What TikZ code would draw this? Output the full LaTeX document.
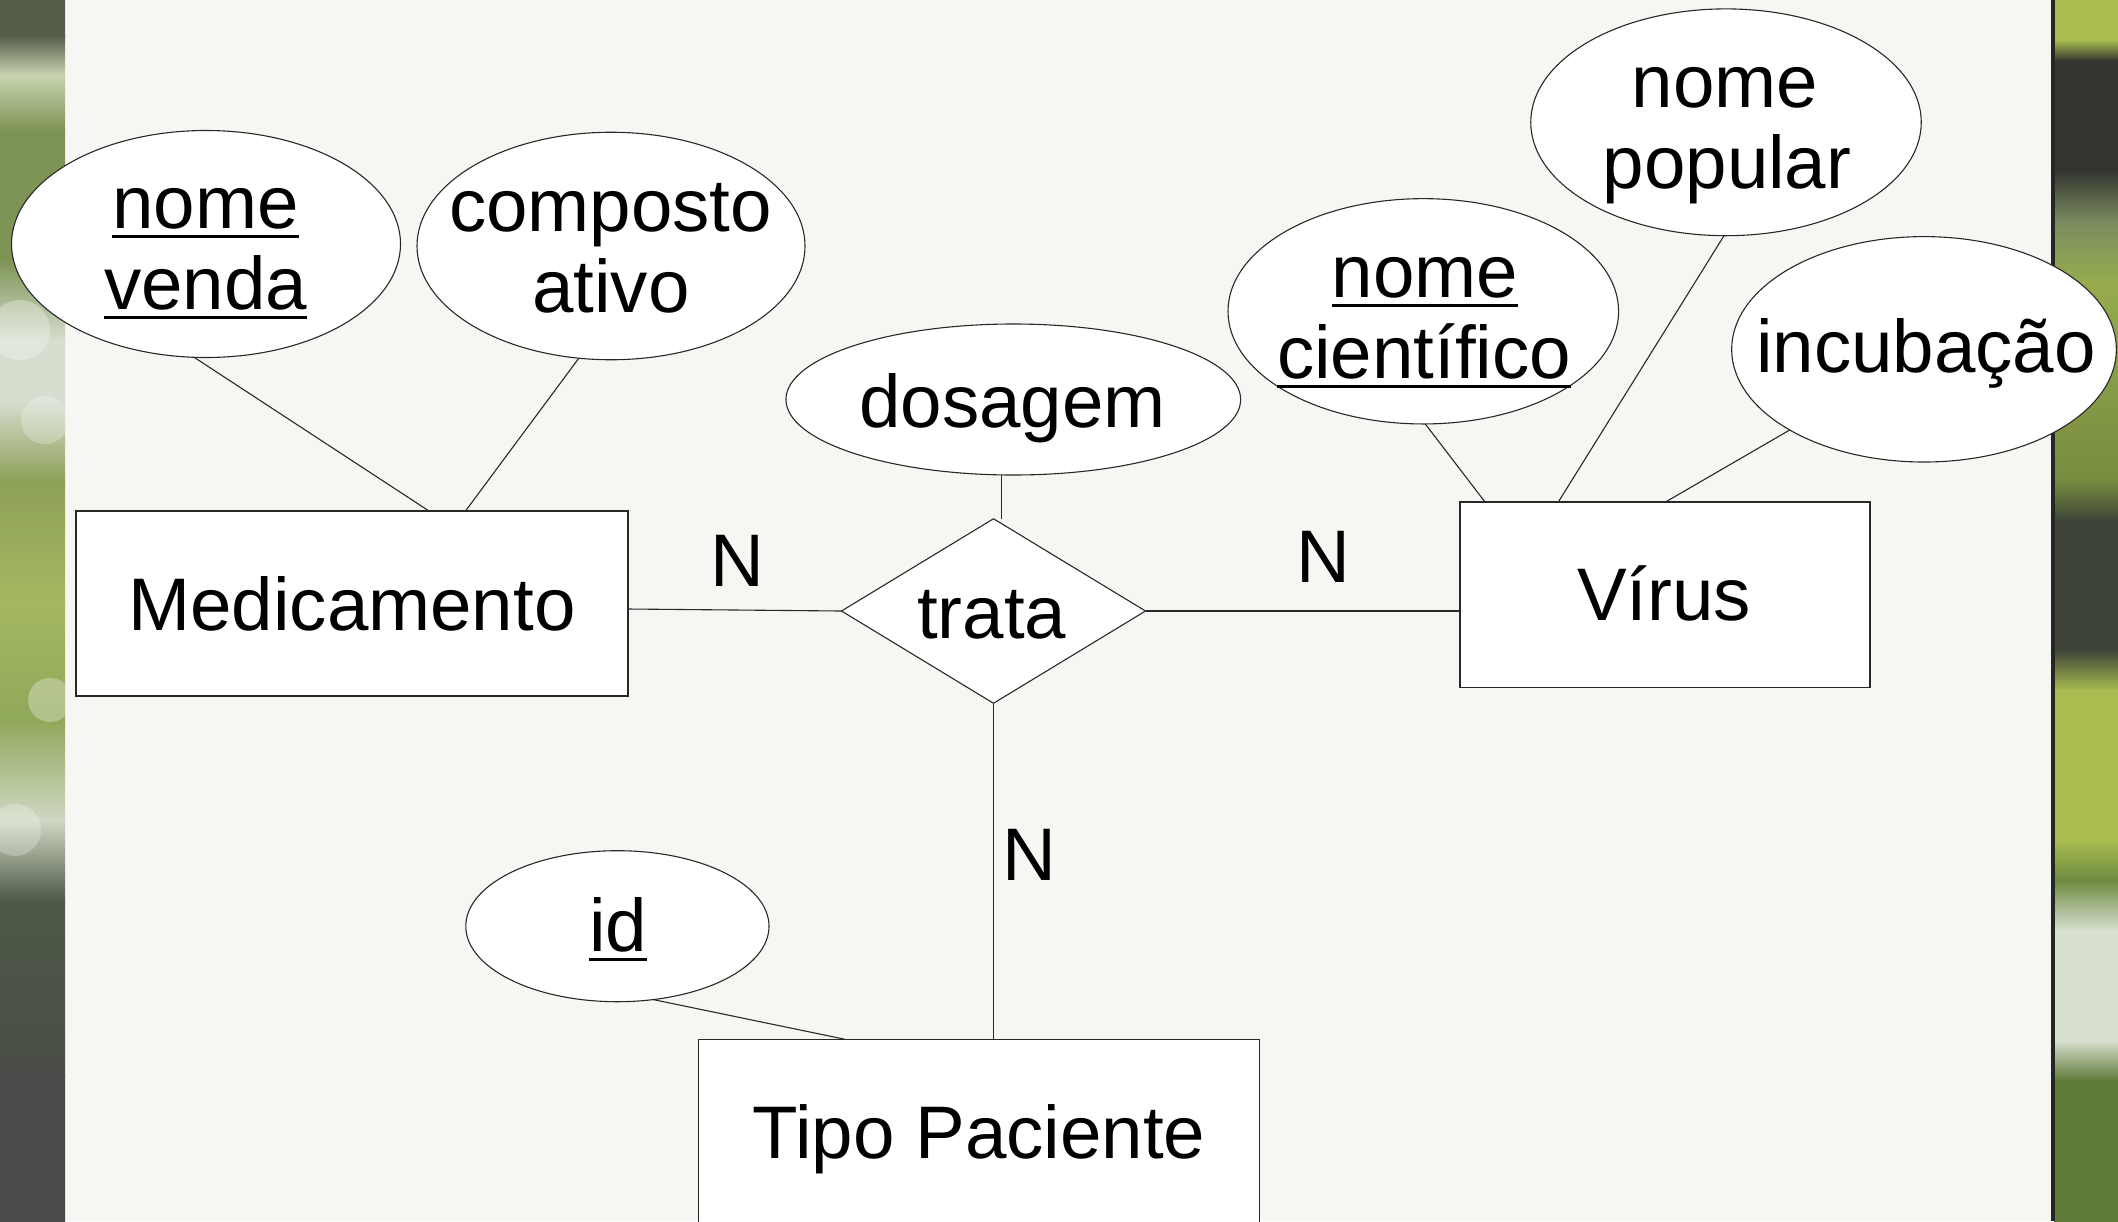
\documentclass[tikz,border=0pt]{standalone}
\usepackage{fontspec}
\setmainfont{Liberation Sans}
\usetikzlibrary{shapes.geometric}
\pgfdeclarelayer{bgl}
\pgfdeclarelayer{edges}
\pgfsetlayers{bgl,edges,main}
\newsavebox\ulbox
\newcommand\ulx[1]{\sbox\ulbox{#1}\rlap{\rule[-4.75pt]{\wd\ulbox}{1.5pt}}\usebox\ulbox}
\definecolor{panel}{RGB}{246,247,243}
\definecolor{LA}{RGB}{85,92,74}
\definecolor{LB}{RGB}{200,212,176}
\definecolor{LC}{RGB}{126,148,85}
\definecolor{LD}{RGB}{214,222,208}
\definecolor{LE}{RGB}{141,160,88}
\definecolor{LF}{RGB}{164,184,96}
\definecolor{LG}{RGB}{144,168,90}
\definecolor{LH}{RGB}{207,216,196}
\definecolor{LI}{RGB}{78,90,72}
\definecolor{LJ}{RGB}{74,79,70}
\definecolor{LK}{RGB}{74,74,74}
\definecolor{RA}{RGB}{168,188,80}
\definecolor{RB}{RGB}{51,53,47}
\definecolor{RC}{RGB}{122,138,96}
\definecolor{RD}{RGB}{150,172,78}
\definecolor{RDD}{RGB}{120,140,64}
\definecolor{RE}{RGB}{62,69,56}
\definecolor{RF}{RGB}{168,188,80}
\definecolor{RG}{RGB}{110,138,64}
\definecolor{RH}{RGB}{216,224,208}
\definecolor{RI}{RGB}{96,122,56}
\definecolor{ink}{RGB}{40,40,40}
\tikzset{
  erline/.style={draw=ink, line width=0.55pt},
  attr/.style={ellipse, draw=ink, line width=0.55pt, fill=white, inner sep=0pt, outer sep=0pt},
  ent/.style={rectangle, draw=ink, line width=0.55pt, fill=white, inner sep=0pt, outer sep=0pt},
  rel/.style={diamond, draw=ink, line width=0.55pt, fill=white, inner sep=0pt, outer sep=0pt},
  lbl/.style={inner sep=0pt, outer sep=0pt, anchor=base, text=black, font=\fontsize{37.25}{40}\selectfont},
}
\begin{document}
\begin{tikzpicture}[x=0.5pt,y=-0.5pt]
\useasboundingbox (0,0) rectangle (2118,1221);

% ---------- entities, relationship, attributes ----------
\node[attr, minimum width=194.5pt, minimum height=113.5pt] (nv) at (206,244) {};
\node[lbl] (nvt1) at (205.5,228.5) {\ulx{nome}};
\node[lbl] (nvt2) at (205.5,309.6) {\ulx{venda}};

\node[attr, minimum width=194pt, minimum height=113.75pt] (ca) at (611,246) {};
\node[lbl] (cat1) at (610.5,231) {composto};
\node[lbl] (cat2) at (611,312) {ativo};

\node[ent, minimum width=276pt, minimum height=92.5pt] (med) at (352,603.5) {};
\node[lbl] (medt) at (352,630) {Medicamento};

\node[rel, minimum width=152pt, minimum height=92.25pt] (trata) at (993.5,611) {};
\node[lbl] (tratat) at (991.7,638.3) {trata};

\node[attr, minimum width=227.35pt, minimum height=75.5pt] (dos) at (1013.3,399.5) {};
\node[lbl] (dost) at (1012.5,427) {dosagem};

\node[ent, minimum width=205pt, minimum height=92.75pt] (vir) at (1665,594.75) {};
\node[lbl] (virt) at (1664,620.5) {Vírus};

\node[attr, minimum width=195.3pt, minimum height=112.65pt] (nc) at (1423.3,311.3) {};
\node[lbl] (nct1) at (1424.8,297) {\ulx{nome}};
\node[lbl] (nct2) at (1424,378) {\ulx{científico}};

\node[attr, minimum width=195.25pt, minimum height=113.4pt] (np) at (1726,122.3) {};
\node[lbl] (npt1) at (1725,107) {nome};
\node[lbl] (npt2) at (1727,188) {popular};

\node[attr, minimum width=192.35pt, minimum height=112.7pt] (inc) at (1924,349.3) {};
\node[lbl] (inct) at (1926,372.8) {incubação};

\node[attr, minimum width=151.6pt, minimum height=75.5pt] (id) at (617.4,926.2) {};
\node[lbl] (idt) at (618,951.7) {\ulx{id}};

\node[ent, minimum width=280.75pt, minimum height=92.5pt] (tp) at (979,1131.7) {};
\node[lbl] (tpt) at (979,1158) {Tipo Paciente};

\node[lbl] (n1) at (737.5,586) {N};
\node[lbl] (n2) at (1323,582.6) {N};
\node[lbl] (n3) at (1029,880) {N};

% ---------- connectors ----------
\begin{pgfonlayer}{edges}
\draw[erline] (nv.264) -- ([xshift=176.5pt]med.north west);
\draw[erline] (ca.254.4) -- ([xshift=194.75pt]med.north west);
\draw[erline] ([yshift=-2.75pt]med.east) -- (trata.west);
\draw[erline] (trata.east) -- (vir.west |- trata.east);
\draw[erline] ([xshift=-5.8pt]dos.south) -- ([xshift=-5.8pt]dos.south |- trata.north);
\draw[erline] (trata.south) -- (trata.south |- tp.north);
\draw[erline] (id.296.6) -- ([xshift=73.2pt]tp.north west);
\draw[erline] (nc.271.2) -- ([xshift=12.5pt]vir.north west);
\draw[erline] (np.269) -- ([xshift=49.15pt]vir.north west);
\draw[erline] (inc.211.1) -- ([xshift=102.75pt]vir.north west);
\end{pgfonlayer}

% ---------- background ----------
\begin{pgfonlayer}{bgl}
\fill[panel] (0,0) rectangle (2118,1221);
\foreach \ya/\yb/\ca/\cb in {0/35/LA/LA, 35/75/LA/LB, 75/130/LB/LC, 130/260/LC/LC,
    260/340/LC/LD, 340/400/LD/LD, 400/480/LD/LE, 480/600/LE/LF, 600/720/LF/LG,
    720/820/LG/LH, 820/900/LH/LI, 900/1050/LI/LJ, 1050/1075/LJ/LK, 1075/1221/LK/LK}{
  \shade[top color=\ca, bottom color=\cb] (0,\ya) rectangle (65,\yb+1);
}
\begin{scope}
\clip (0,0) rectangle (65,1221);
\fill[white, opacity=0.3] (20,330) circle[radius=30];
\fill[white, opacity=0.25] (45,420) circle[radius=24];
\fill[white, opacity=0.3] (50,700) circle[radius=22];
\fill[white, opacity=0.25] (15,830) circle[radius=26];
\end{scope}
\foreach \ya/\yb/\ca/\cb in {0/40/RA/RA, 40/60/RA/RB, 60/170/RB/RB, 170/220/RB/RC,
    220/280/RC/RD, 280/480/RD/RDD, 480/520/RDD/RE, 520/650/RE/RE, 650/690/RE/RF,
    690/840/RF/RF, 840/880/RF/RG, 880/930/RG/RH, 930/1040/RH/RH, 1040/1080/RH/RI,
    1080/1221/RI/RI}{
  \shade[top color=\ca, bottom color=\cb] (2054,\ya) rectangle (2118,\yb+1);
}
\fill[black!85] (2051,0) rectangle (2055,1221);
\end{pgfonlayer}
\end{tikzpicture}
\end{document}
